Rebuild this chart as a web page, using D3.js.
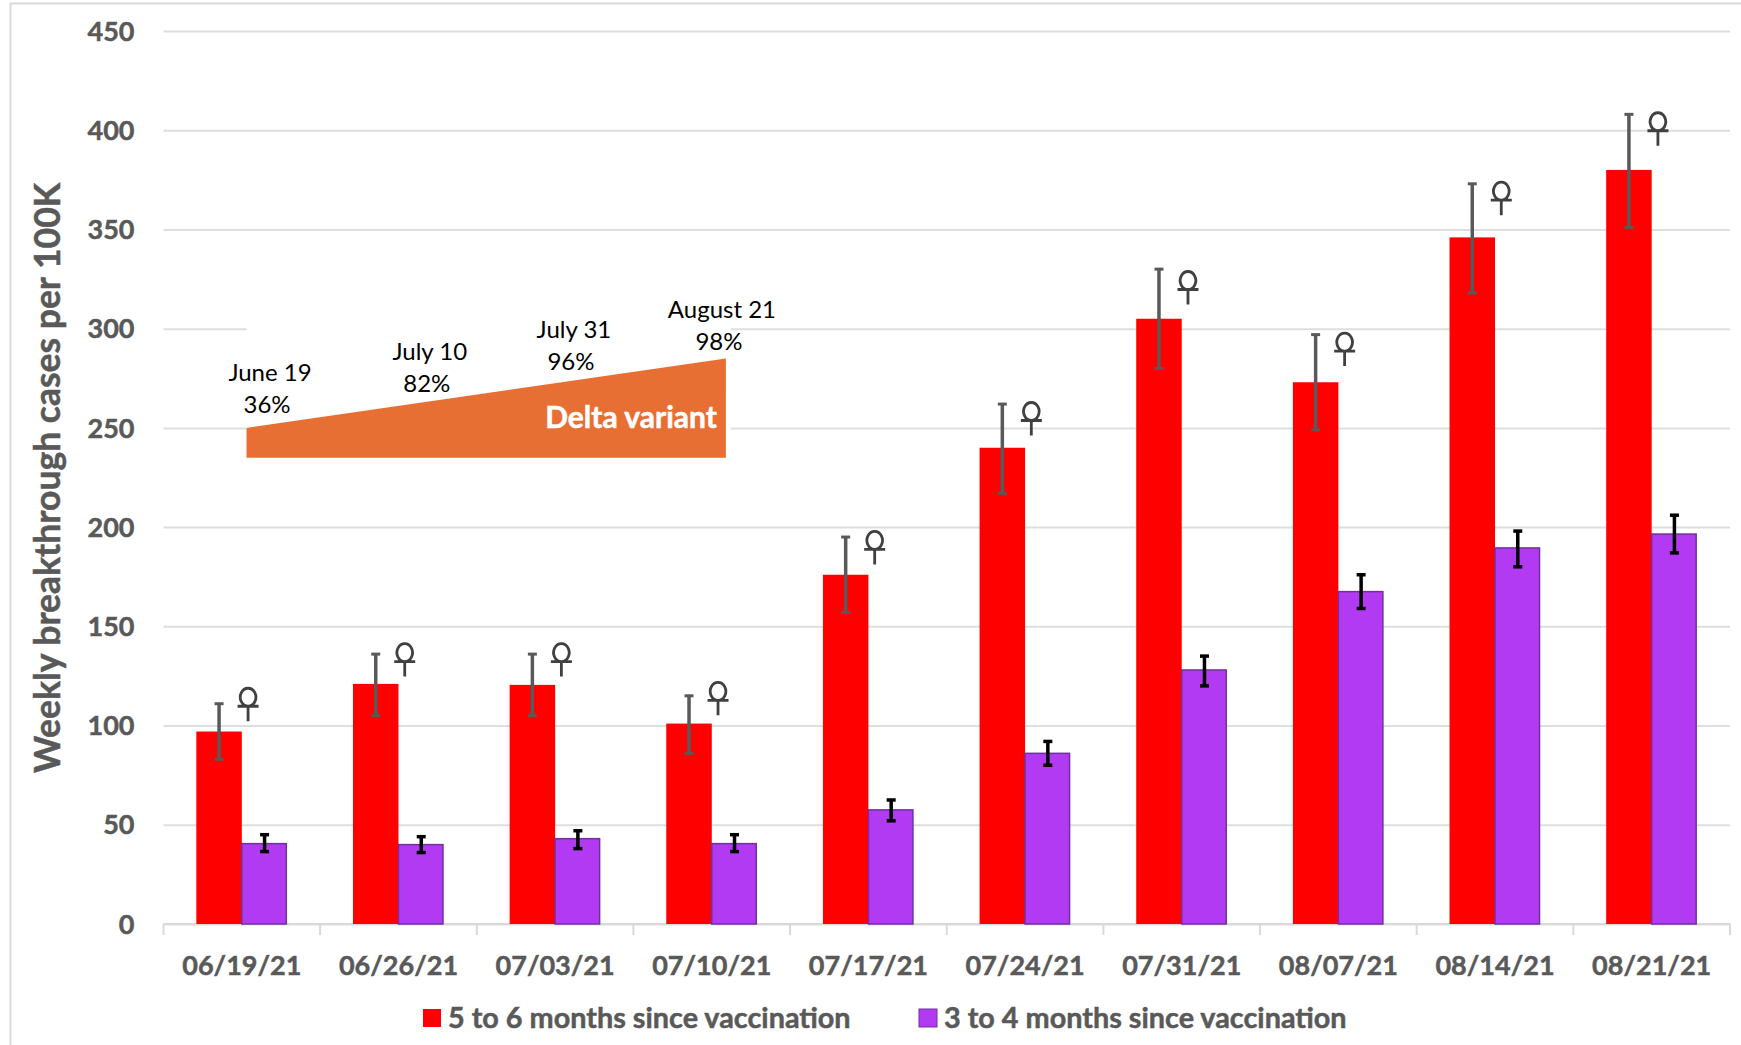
<!DOCTYPE html>
<html>
<head>
<meta charset="utf-8">
<script src="https://cdn.jsdelivr.net/npm/d3@7"></script>
<style>
body { margin: 0; background: #fff; }
text { font-family: Lato, "Open Sans", sans-serif; }
.heavy { font-weight: 700; stroke: #595959; stroke-width: 0.5px; }
</style>
</head>
<body>
<script>
const dates = ["06/19/21", "06/26/21", "07/03/21", "07/10/21", "07/17/21", "07/24/21", "07/31/21", "08/07/21", "08/14/21", "08/21/21"];
const redValues = [97, 121, 120.5, 101, 176, 240, 305, 273, 346, 380];
const redLow = [83, 105, 105, 86, 157, 217, 280, 249, 318, 351];
const redHigh = [111, 136, 136, 115, 195, 262, 330, 297, 373, 408];
const purpleValues = [40.5, 40, 43, 40.5, 57.5, 86, 128, 167.5, 189.5, 196.5];
const purpleLow = [36.5, 36, 38, 36.5, 52, 80, 120, 159, 180, 187];
const purpleHigh = [45, 44, 47, 45, 62.5, 92, 135, 176, 198, 206];
const markLevels = [112, 134.5, 134.5, 115, 191, 256, 322, 291, 367, 402];
const yTicks = [0, 50, 100, 150, 200, 250, 300, 350, 400, 450];
const seriesNames = ["5 to 6 months since vaccination", "3 to 4 months since vaccination"];

// delta variant annotation, x in category units, y in chart values
const deltaDates = ["June 19", "July 10", "July 31", "August 21"];
const deltaShares = ["36%", "82%", "96%", "98%"];
const deltaLabelX = [0.68, 1.70, 2.62, 3.565];
const deltaLabelY = [257.5, 268, 279, 289];
const wedgeX = [0.53, 3.59, 3.59, 0.53];
const wedgeY = [250, 285, 235, 235];

const width = 1741;
const height = 1045;
const grey = "#595959";

const svg = d3.select("body").append("svg")
    .attr("width", width)
    .attr("height", height)
    .style("display", "block");

const x = d3.scaleBand().domain(dates).range([163.5, 1730]);
const y = d3.scaleLinear().domain([0, 450]).range([924, 31]);
const catX = d3.scaleLinear().domain([0, 10]).range([163.5, 1730]);

// chart frame
svg.append("path")
    .attr("d", `M10.5,${height}V3.5H${width}`)
    .attr("fill", "none")
    .attr("stroke", "#d9d9d9")
    .attr("stroke-width", 2);

// gridlines and y labels
const yAxis = svg.append("g")
    .attr("transform", "translate(163.5,0)")
    .call(d3.axisLeft(y).tickValues(yTicks).tickSize(-1566.5).tickPadding(29));
yAxis.select(".domain").remove();
yAxis.selectAll("line").attr("stroke", "#dedede").attr("stroke-width", 2);
yAxis.selectAll("text")
    .attr("class", "heavy")
    .attr("dy", "0.34em")
    .attr("fill", grey)
    .style("font-size", "27px");

// white box that hides the gridline behind the annotation
svg.append("rect")
    .attr("x", catX(0.53))
    .attr("y", y(315))
    .attr("width", catX(3.62) - catX(0.53))
    .attr("height", y(230) - y(315))
    .attr("fill", "#fff");

const xAxis = svg.append("g")
    .attr("transform", `translate(0,${y(0)})`)
    .call(d3.axisBottom(x).tickSize(0).tickPadding(32));
xAxis.select(".domain").remove();
xAxis.selectAll("text")
    .attr("class", "heavy")
    .attr("fill", grey)
    .style("font-size", "27px");

svg.append("line")
    .attr("x1", x.range()[0]).attr("x2", x.range()[1])
    .attr("y1", y(0)).attr("y2", y(0))
    .attr("stroke", "#d9d9d9")
    .attr("stroke-width", 2);

svg.append("g")
    .selectAll("line")
    .data(d3.range(11))
    .join("line")
    .attr("x1", d => catX(d)).attr("x2", d => catX(d))
    .attr("y1", y(0)).attr("y2", y(0) + 11)
    .attr("stroke", "#d9d9d9")
    .attr("stroke-width", 2);

const barW = 45.5;
const inner = d3.scaleBand().domain([0, 1]).range([0, barW * 2]);
const groupPad = (x.bandwidth() - barW * 2) / 2;

const groups = svg.append("g")
    .selectAll("g")
    .data(dates)
    .join("g")
    .attr("transform", d => `translate(${x(d) + groupPad},0)`);

groups.append("rect")
    .attr("x", inner(0))
    .attr("width", inner.bandwidth())
    .attr("y", (d, i) => y(redValues[i]))
    .attr("height", (d, i) => y(0) - y(redValues[i]))
    .attr("fill", "#ff0000");

groups.append("rect")
    .attr("x", inner(1))
    .attr("width", inner.bandwidth() - 1)
    .attr("y", (d, i) => y(purpleValues[i]))
    .attr("height", (d, i) => y(0) - y(purpleValues[i]))
    .attr("fill", "#b23af2")
    .attr("stroke", "#7030a0")
    .attr("stroke-width", 1.5);

function errorBars(cx, low, high, color, lineW, capW, capH) {
    groups.append("line")
        .attr("x1", cx).attr("x2", cx)
        .attr("y1", (d, i) => y(low[i]))
        .attr("y2", (d, i) => y(high[i]))
        .attr("stroke", color)
        .attr("stroke-width", lineW);
    [low, high].forEach(arr => {
        groups.append("line")
            .attr("x1", cx - capW / 2).attr("x2", cx + capW / 2)
            .attr("y1", (d, i) => y(arr[i]))
            .attr("y2", (d, i) => y(arr[i]))
            .attr("stroke", color)
            .attr("stroke-width", capH);
    });
}
errorBars(inner(0) + barW / 2, redLow, redHigh, grey, 3.5, 9, 3);
errorBars(inner(1) + barW / 2, purpleLow, purpleHigh, "#000", 3.5, 9, 3.5);

// marks beside each red bar: ring, crossbar and stem around the level
const markPath = "M0,4.5V19.5M-10.5,4.5H10.5M0,4.5A7.8,9 0 1 1 0.01,4.5";
const marks = groups.append("path")
    .attr("transform", (d, i) => `translate(${inner(0) + barW / 2 + 29},${y(markLevels[i])})`)
    .attr("d", markPath)
    .attr("fill", "none")
    .attr("stroke", "#404040")
    .attr("stroke-width", 2.8);
marks.append("title").text("\u2640");

// delta variant wedge
svg.append("path")
    .attr("d", d3.line().x((d, i) => catX(wedgeX[i])).y(d => y(d))(wedgeY) + "Z")
    .attr("fill", "#e86f33");

svg.append("text")
    .attr("x", catX(3.59) - 9)
    .attr("y", y(250))
    .attr("text-anchor", "end")
    .attr("fill", "#fff")
    .attr("stroke", "#fff")
    .attr("stroke-width", 0.5)
    .style("font-size", "30px")
    .style("font-weight", 700)
    .text("Delta variant");

const deltaLabels = svg.append("g")
    .selectAll("text")
    .data(deltaDates)
    .join("text")
    .attr("text-anchor", "middle")
    .attr("fill", "#000")
    .style("font-size", "24px");
deltaLabels.append("tspan")
    .attr("x", (d, i) => catX(deltaLabelX[i]))
    .attr("y", (d, i) => y(deltaLabelY[i]) - 32)
    .text(d => d);
deltaLabels.append("tspan")
    .attr("x", (d, i) => catX(deltaLabelX[i]) - 3)
    .attr("y", (d, i) => y(deltaLabelY[i]))
    .text((d, i) => deltaShares[i]);

// y title
svg.append("text")
    .attr("class", "heavy")
    .attr("transform", "translate(60,478) rotate(-90)")
    .attr("text-anchor", "middle")
    .attr("fill", grey)
    .style("font-size", "35.5px")
    .text("Weekly breakthrough cases per 100K");

// legend
const legendX = d3.scaleOrdinal().domain(seriesNames).range([423, 919]);
const legendColor = d3.scaleOrdinal().domain(seriesNames).range(["#ff0000", "#b23af2"]);
const legend = svg.append("g")
    .selectAll("g")
    .data(seriesNames)
    .join("g")
    .attr("transform", d => `translate(${legendX(d)},1018)`);
legend.append("rect")
    .attr("y", -9)
    .attr("width", 18)
    .attr("height", 18)
    .attr("fill", d => legendColor(d))
    .attr("stroke", (d, i) => i ? "#7030a0" : "none");
legend.append("text")
    .attr("class", "heavy")
    .attr("x", 25)
    .attr("y", 10)
    .attr("fill", grey)
    .style("font-size", "28.8px")
    .text(d => d);
</script>
</body>
</html>
